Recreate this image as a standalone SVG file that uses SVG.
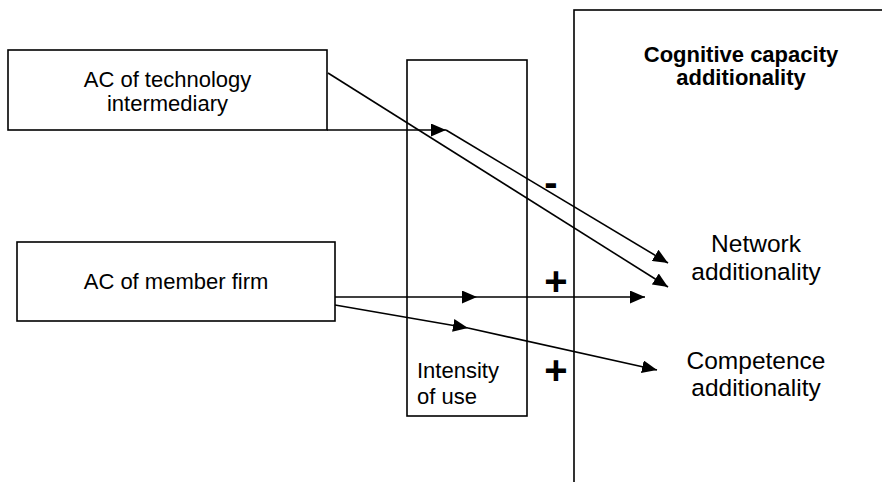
<svg xmlns="http://www.w3.org/2000/svg" width="882" height="482" viewBox="0 0 882 482">
<style>
.box{fill:#fff;stroke:#000;stroke-width:1.6}
.frame{fill:none;stroke:#000;stroke-width:1.6}
.lbl{font-family:"Liberation Sans",Arial,sans-serif;font-size:22px;fill:#000}
.big{font-family:"Liberation Sans",Arial,sans-serif;font-size:24.5px;fill:#000;text-anchor:middle}
.ttl{font-family:"Liberation Sans",Arial,sans-serif;font-size:22px;font-weight:bold;fill:#000;text-anchor:middle}
.sign{font-family:"Liberation Sans",Arial,sans-serif;font-size:40px;font-weight:bold;fill:#000;text-anchor:middle}
.c{stroke:#000;stroke-width:1.6;fill:none;marker-end:url(#ah)}
</style>
<defs>
<marker id="ah" markerUnits="userSpaceOnUse" markerWidth="16" markerHeight="13" refX="15" refY="6.5" orient="auto">
<path d="M0,0 L15,6.5 L0,13 z" fill="#000"/>
</marker>
</defs>
<rect width="882" height="482" fill="#fff"/>
<g id="cognitive">
<rect class="frame" x="574" y="10" width="400" height="520"/>
<text class="ttl" x="741" y="62">Cognitive capacity</text>
<text class="ttl" x="741" y="85">additionality</text>
</g>
<g id="intensity">
<rect class="frame" x="407" y="60" width="120" height="356"/>
<text class="lbl" x="417" y="378">Intensity</text>
<text class="lbl" x="417" y="404">of use</text>
</g>
<g id="tech">
<rect class="box" x="8" y="50" width="319" height="80"/>
<text class="lbl" x="167.5" y="87" text-anchor="middle">AC of technology</text>
<text class="lbl" x="167.5" y="111" text-anchor="middle">intermediary</text>
</g>
<g id="member">
<rect class="box" x="17" y="242" width="318" height="79"/>
<text class="lbl" x="176" y="289" text-anchor="middle">AC of member firm</text>
</g>
<g id="network">
<text class="big" x="756" y="252">Network</text>
<text class="big" x="756" y="280">additionality</text>
</g>
<g id="competence">
<text class="big" x="756" y="369">Competence</text>
<text class="big" x="756" y="396">additionality</text>
</g>
<g id="connectors">
<line class="c" x1="327" y1="130" x2="446" y2="130"/>
<line class="c" x1="446" y1="130" x2="668" y2="263"/>
<line class="c" x1="328" y1="73" x2="668" y2="287"/>
<line class="c" x1="335" y1="297" x2="477" y2="297"/>
<line class="c" x1="477" y1="297" x2="645" y2="297"/>
<line class="c" x1="335" y1="305" x2="468" y2="328"/>
<line class="c" x1="468" y1="328" x2="657" y2="370"/>
</g>
<g id="signs">
<text class="sign" x="551" y="196">-</text>
<text class="sign" x="556" y="295">+</text>
<text class="sign" x="556" y="384">+</text>
</g>
</svg>
